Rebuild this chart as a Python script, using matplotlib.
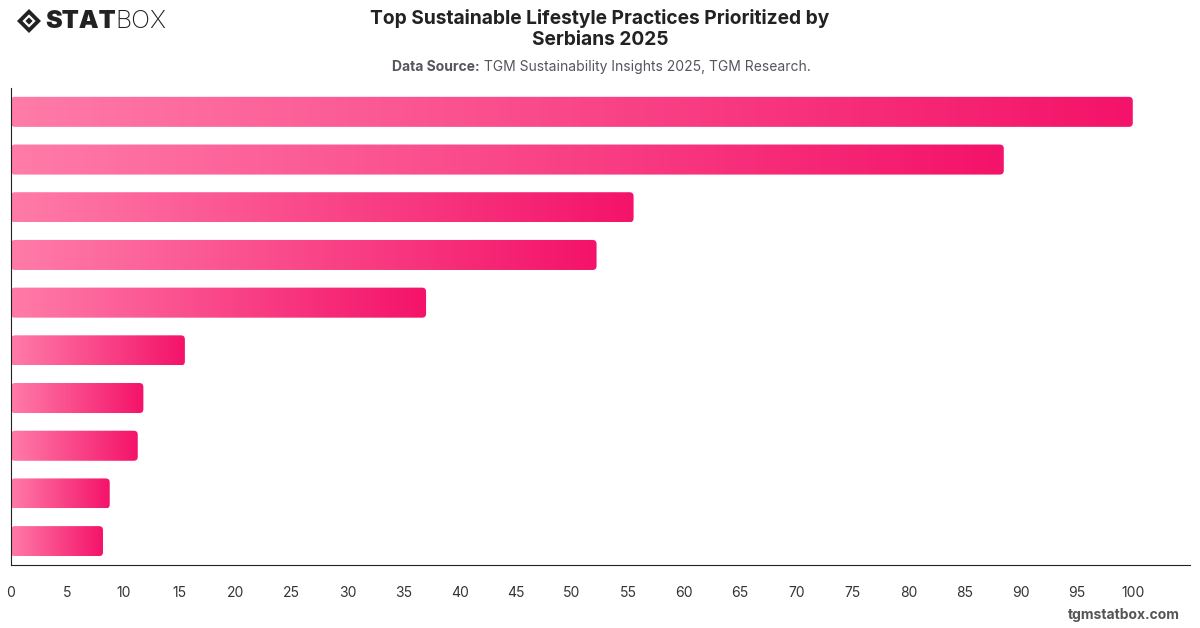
import numpy as np
import matplotlib
matplotlib.use("Agg")
import matplotlib.pyplot as plt
from matplotlib.patches import FancyBboxPatch, Polygon
from matplotlib.colors import LinearSegmentedColormap

plt.rcParams["font.family"] = ["Inter", "DejaVu Sans"]

# Data (no category labels shown in the chart)
practices = ["P1", "P2", "P3", "P4", "P5", "P6", "P7", "P8", "P9", "P10"]
scores = [100, 88.5, 55.5, 52.2, 37.0, 15.5, 11.8, 11.3, 8.8, 8.2]
xticks = list(range(0, 101, 5))

title = "Top Sustainable Lifestyle Practices Prioritized by\nSerbians 2025"
source_bold = "Data Source:"
source_text = " TGM Sustainability Insights 2025, TGM Research."

cmap = LinearSegmentedColormap.from_list("pink", ["#ff7ba8", "#f4136a"])

fig = plt.figure(figsize=(12, 6.28), dpi=100)
ax = fig.add_axes([11 / 1200, 1 - 565 / 628, 1179 / 1200, 477 / 628])

xmax = 105.1
ax.set_xlim(0, xmax)
ax.set_ylim(len(scores) - 0.5, -0.5)

bar_h = 0.63
grad = np.linspace(0, 1, 256).reshape(1, -1)
px_x = 1179 / xmax
px_y = 477 / len(scores)
r = 4 / px_x
for i, v in enumerate(scores):
    y0 = i - bar_h / 2
    patch = FancyBboxPatch((0, y0), v, bar_h,
                           boxstyle=f"round,pad=0,rounding_size={r}",
                           mutation_aspect=px_x / px_y,
                           linewidth=0, facecolor="none")
    ax.add_patch(patch)
    im = ax.imshow(grad, cmap=cmap, aspect="auto",
                   extent=(0, v, y0 + bar_h, y0), interpolation="bicubic",
                   zorder=2)
    im.set_clip_path(patch)

ax.set_xlim(0, xmax)
ax.set_ylim(len(scores) - 0.5, -0.5)
ax.set_xticks(xticks)
ax.set_xticklabels([str(t) for t in xticks], fontsize=10, color="#333333")
ax.set_yticks([])
ax.tick_params(axis="x", length=0, pad=15)
for s in ["top", "right"]:
    ax.spines[s].set_visible(False)
ax.spines["left"].set_color("#222222")
ax.spines["bottom"].set_color("#222222")

# Title and source
fig.text(0.5, 1 - 29 / 628, title, ha="center", va="center",
         fontsize=13.8, fontweight="bold", color="#222222", linespacing=1.25)
t1 = fig.text(0.5, 1 - 67 / 628, source_bold + source_text, ha="center", va="center",
              fontsize=10, color="white")
fig.canvas.draw()
bb = t1.get_window_extent()
t1.remove()
tb = fig.text(bb.x0 / 1200, 1 - 67 / 628, source_bold, ha="left", va="center",
              fontsize=10, fontweight="bold", color="#555560")
fig.canvas.draw()
bb2 = tb.get_window_extent()
fig.text(bb2.x1 / 1200, 1 - 67 / 628, source_text, ha="left", va="center",
         fontsize=10, color="#555560")

# Logo
cx, cy = 29 / 1200, 1 - 21 / 628
sx, sy = 12 / 1200, 12 / 628
outer = Polygon([(cx - sx, cy), (cx, cy + sy), (cx + sx, cy), (cx, cy - sy)],
                closed=True, transform=fig.transFigure, facecolor="#222222")
inner = Polygon([(cx - sx * 0.55, cy), (cx, cy + sy * 0.55), (cx + sx * 0.55, cy),
                 (cx, cy - sy * 0.55)],
                closed=True, transform=fig.transFigure, facecolor="white")
core = Polygon([(cx - sx * 0.3, cy), (cx, cy + sy * 0.3), (cx + sx * 0.3, cy),
                (cx, cy - sy * 0.3)],
               closed=True, transform=fig.transFigure, facecolor="#222222")
for p in (outer, inner, core):
    fig.patches.append(p)
ts = fig.text(45 / 1200, cy, "STAT", ha="left", va="center", fontsize=18,
              fontweight="black", color="#222222")
fig.canvas.draw()
bb3 = ts.get_window_extent()
fig.text(bb3.x1 / 1200, cy, "BOX", ha="left", va="center", fontsize=18,
         fontweight="light", color="#222222")

# Watermark
fig.text(1180 / 1200, 1 - 615 / 628, "tgmstatbox.com", ha="right", va="center",
         fontsize=10, fontweight="bold", color="#555555")

fig.savefig("out.png", dpi=100)
